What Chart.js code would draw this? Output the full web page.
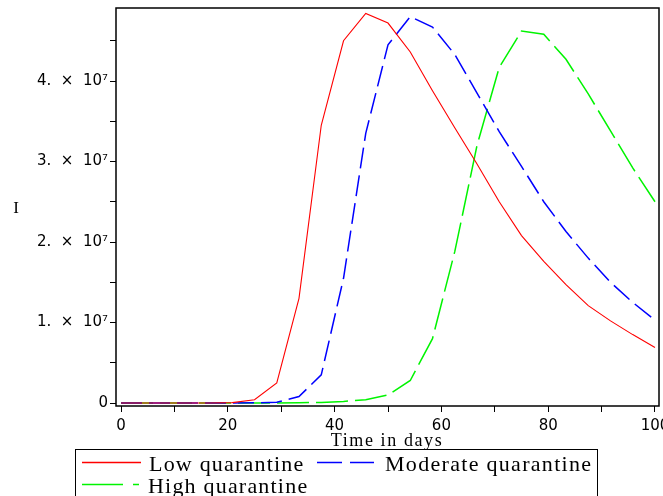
<!DOCTYPE html>
<html lang="en">
<head>
<meta charset="UTF-8" />
<title>Infected vs time for three quarantine levels</title>
<script src="https://cdn.jsdelivr.net/npm/chart.js@4.4.1/dist/chart.umd.min.js"></script>
<style>
  html, body { margin: 0; padding: 0; background: #fff; }
  canvas { display: block; }
</style>
</head>
<body>
<canvas id="chart" width="663" height="496"></canvas>
<script>
// time samples of the ODE plot (days)
const days = [0, 4.17, 8.33, 12.5, 16.67, 20.83, 25, 29.17, 33.33, 37.5, 41.67, 45.83, 50,
              54.17, 58.33, 62.5, 66.67, 70.83, 75, 79.17, 83.33, 87.5, 91.67, 95.83, 100];

// infected I, in units of 10^7
const lowQuarantine = [0, 0, 0, 0, 0, 0.005, 0.04, 0.25, 1.3, 3.45, 4.5, 4.84, 4.72,
                       4.36, 3.88, 3.42, 2.97, 2.5, 2.08, 1.76, 1.47, 1.21, 1.02, 0.85, 0.69];
const moderateQuarantine = [0, 0, 0, 0, 0, 0, 0.002, 0.01, 0.08, 0.35, 1.55, 3.35, 4.45,
                            4.8, 4.67, 4.33, 3.85, 3.37, 2.94, 2.5, 2.13, 1.8, 1.5, 1.25, 1.03];
const highQuarantine = [0, 0, 0, 0, 0, 0, 0, 0, 0.003, 0.008, 0.02, 0.04, 0.1,
                        0.28, 0.8, 1.88, 3.2, 4.17, 4.62, 4.58, 4.27, 3.84, 3.38, 2.92, 2.5];

const seriesNames = ["Low quarantine", "Moderate quarantine", "High quarantine"];

const xTicks = [0, 10, 20, 30, 40, 50, 60, 70, 80, 90, 100];
const xTickLabels = ["0", "", "20", "", "40", "", "60", "", "80", "", "100"];
const yTicks = [0, 0.5, 1, 1.5, 2, 2.5, 3, 3.5, 4, 4.5];
const yTickLabels = ["0", "", "1.  \u00d7  10\u2077", "", "2.  \u00d7  10\u2077", "",
                     "3.  \u00d7  10\u2077", "", "4.  \u00d7  10\u2077", ""];

const xTitle = "Time in days";
const yTitle = "I";

const toPoints = (vals) => days.map((d, i) => ({ x: d, y: vals[i] }));

// frame, axis titles and the boxed legend (Maple style)
const frameAndText = {
  id: "frameAndText",
  beforeDraw(chart) {
    const ctx = chart.ctx;
    ctx.save();
    ctx.fillStyle = "#fff";
    ctx.fillRect(0, 0, chart.width, chart.height);
    ctx.restore();
  },
  afterDraw(chart) {
    const { ctx, chartArea: a } = chart;
    ctx.save();
    ctx.strokeStyle = "#000";
    ctx.lineWidth = 1.5;
    ctx.strokeRect(a.left, a.top, a.right - a.left, a.bottom - a.top);

    ctx.fillStyle = "#000";
    ctx.textBaseline = "alphabetic";
    ctx.font = "18px 'Liberation Serif'";
    ctx.letterSpacing = "1.6px";
    ctx.textAlign = "center";
    ctx.fillText(xTitle, 387, 446);
    ctx.letterSpacing = "0px";
    ctx.font = "17px 'Liberation Serif'";
    ctx.fillText(yTitle, 16, 213);

    // legend box
    ctx.lineWidth = 1;
    ctx.strokeRect(75.5, 449.5, 522, 60);
    const items = [
      { x: 82, y: 462.5, len: 59, dash: [], gap: 8, ls: "1.2px" },
      { x: 317, y: 462.5, len: 57, dash: [25, 8], gap: 11, ls: "1.3px" },
      { x: 82, y: 484.5, len: 58, dash: [41, 10, 6, 10], gap: 8, ls: "1.2px" },
    ];
    ctx.font = "22px 'Liberation Serif'";
    ctx.textAlign = "left";
    chart.data.datasets.forEach((ds, i) => {
      const it = items[i];
      ctx.strokeStyle = ds.borderColor;
      ctx.lineWidth = 1.3;
      ctx.setLineDash(it.dash);
      ctx.beginPath();
      ctx.moveTo(it.x, it.y);
      ctx.lineTo(it.x + it.len, it.y);
      ctx.stroke();
      ctx.setLineDash([]);
      ctx.fillStyle = "#000";
      ctx.letterSpacing = it.ls;
      ctx.fillText(ds.label, it.x + it.len + it.gap, it.y + 8);
    });
    ctx.restore();
  },
};

const tickFont = { family: "'DejaVu Sans'", size: 15 };

new Chart(document.getElementById("chart"), {
  type: "line",
  data: {
    datasets: [
      { label: seriesNames[0], data: toPoints(lowQuarantine), borderColor: "#ff0000", borderWidth: 1.1 },
      { label: seriesNames[1], data: toPoints(moderateQuarantine), borderColor: "#0000ff", borderWidth: 1.5, borderDash: [21, 7] },
      { label: seriesNames[2], data: toPoints(highQuarantine), borderColor: "#00f400", borderWidth: 1.5, borderDash: [32, 7] },
    ],
  },
  options: {
    responsive: false,
    animation: false,
    events: [],
    elements: { point: { radius: 0 }, line: { tension: 0 } },
    layout: { padding: { left: 0, top: 8, right: 4, bottom: 0 }, autoPadding: false },
    plugins: { legend: { display: false }, tooltip: { enabled: false } },
    scales: {
      x: {
        type: "linear",
        min: -0.94,
        max: 100.75,
        afterBuildTicks: (s) => { s.ticks = xTicks.map((v) => ({ value: v })); },
        afterFit: (s) => { s.height = 90; s.paddingLeft = 0; s.paddingRight = 0; },
        border: { display: false },
        grid: { drawOnChartArea: false, color: "#000", tickLength: 6, lineWidth: 1 },
        ticks: {
          autoSkip: false, maxRotation: 0, padding: 5, color: "#000", font: tickFont,
          callback: (v, i) => xTickLabels[i],
        },
      },
      y: {
        type: "linear",
        min: -0.037,
        max: 4.907,
        afterBuildTicks: (s) => { s.ticks = yTicks.map((v) => ({ value: v })); },
        afterFit: (s) => { s.width = 116; s.paddingTop = 0; s.paddingBottom = 0; },
        border: { display: false },
        grid: { drawOnChartArea: false, color: "#000", tickLength: 6, lineWidth: 1 },
        ticks: {
          autoSkip: false, padding: 2, color: "#000", font: tickFont,
          callback: (v, i) => yTickLabels[i],
        },
      },
    },
  },
  plugins: [frameAndText],
});
</script>
</body>
</html>
